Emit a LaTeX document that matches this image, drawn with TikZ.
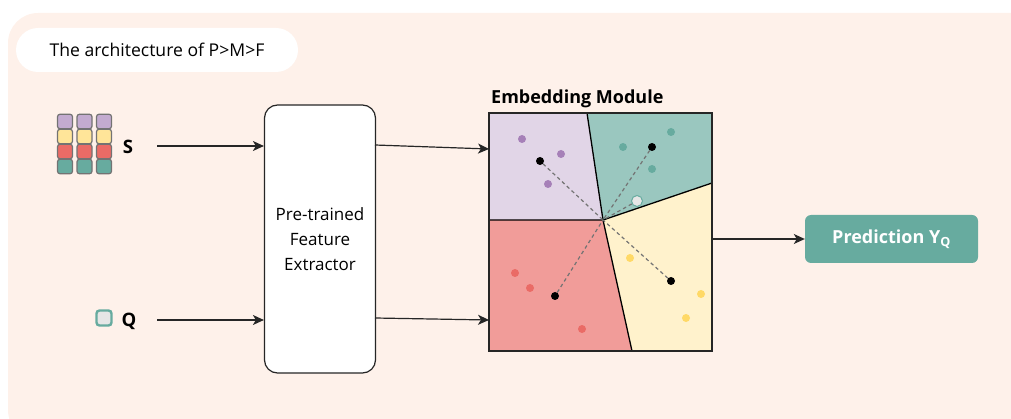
\documentclass[tikz,border=0pt]{standalone}
\usepackage{fontspec}
\setmainfont{Open Sans}
\usetikzlibrary{arrows.meta}
\definecolor{bgpeach}{HTML}{FEF1EA}
\definecolor{cellpurple}{HTML}{C3ABD0}
\definecolor{cellyellow}{HTML}{FFE599}
\definecolor{cellred}{HTML}{EA6B66}
\definecolor{cellteal}{HTML}{67AB9F}
\definecolor{regpurple}{HTML}{E1D5E7}
\definecolor{regteal}{HTML}{9AC7BF}
\definecolor{regyellow}{HTML}{FFF2CC}
\definecolor{regred}{HTML}{F19C99}
\definecolor{dotpurple}{HTML}{A680B8}
\definecolor{dotteal}{HTML}{67AB9F}
\definecolor{dotyellow}{HTML}{FFD966}
\definecolor{dotred}{HTML}{EA6B66}
\definecolor{qgray}{HTML}{E6E6E6}
\tikzset{
  x=1pt, y=-1pt,
  flow/.style={line width=1.2pt, draw=black!85, -{Stealth[length=11pt,width=10pt,inset=3pt]}},
  cell/.style={draw=black!55, line width=1.2pt, rounded corners=2.5pt, minimum width=15pt, minimum height=14.5pt, inner sep=0pt},
  emb/.style={circle, inner sep=0pt, minimum size=8pt},
  proto/.style={circle, fill=black, inner sep=0pt, minimum size=8pt},
  guide/.style={draw=black!55, line width=1.2pt, dash pattern=on 3.5pt off 3pt},
}
\begin{document}
\begin{tikzpicture}
\useasboundingbox (0,0) rectangle (1011,419);
% background panel
\fill[bgpeach, rounded corners=30pt] (8,13) rectangle (1050,440);

% title pill
\node[fill=white, rounded corners=22pt, minimum width=282pt, minimum height=44pt, inner sep=0pt,
      font=\fontsize{17.6}{20}\selectfont] (title) at (157,50) {The architecture of P>M>F};

% support set S
\foreach \c/\xx in {1/65, 2/84.5, 3/104}{
  \foreach \r/\yy/\col in {1/121.5/cellpurple, 2/136.5/cellyellow, 3/151.5/cellred, 4/166.5/cellteal}{
    \node[cell, fill=\col] (s-\r-\c) at (\xx,\yy) {};
  }
}
\node[font=\bfseries\fontsize{18.5}{20}\selectfont] (slab) at (128,147) {S};

% query Q
\node[draw=cellteal, fill=qgray, line width=2.4pt, rounded corners=3pt, minimum size=15pt, inner sep=0pt] (qcell) at (104,318) {};
\node[font=\bfseries\fontsize{18.5}{20}\selectfont] (qlab) at (129,321) {Q};

% feature extractor
\node[draw=black!85, fill=white, line width=1.2pt, rounded corners=13pt, minimum width=111pt, minimum height=268pt,
      align=center, font=\fontsize{17}{25}\selectfont] (fe) at (320,239) {Pre-trained\\Feature\\Extractor};

\coordinate (sfrom) at (157,146);
\coordinate (qfrom) at (157,320);
\draw[flow] (sfrom) -- (sfrom -| fe.west);
\draw[flow] (qfrom) -- (qfrom -| fe.west);

% embedding module: Voronoi cells around the prototypes
\coordinate (c) at (603,220);
\fill[regpurple] (489,113) -- (587,113) -- (c) -- (489,220) -- cycle;
\fill[regteal] (587,113) -- (712,113) -- (712,183) -- (c) -- cycle;
\fill[regyellow] (c) -- (712,183) -- (712,351) -- (632,351) -- cycle;
\fill[regred] (489,220) -- (c) -- (632,351) -- (489,351) -- cycle;
\draw[line width=1.3pt] (587,113) -- (c) -- (712,183);
\draw[line width=1.3pt] (489,220) -- (c) -- (632,351);

% class embeddings
\foreach \p/\col in {{522,139}/dotpurple, {561,154}/dotpurple, {548,184}/dotpurple,
                     {623,147}/dotteal, {671,132}/dotteal, {652,169}/dotteal,
                     {630,258}/dotyellow, {701,294}/dotyellow, {686,318}/dotyellow,
                     {515,273}/dotred, {530,288}/dotred, {582,329}/dotred}{
  \node[emb, fill=\col] at (\p) {};
}

% prototypes and query embedding
\node[proto] (pp) at (540,161) {};
\node[proto] (pt) at (652,147) {};
\node[proto] (py) at (671,281) {};
\node[proto] (pr) at (555,296) {};
\node[circle, draw=dotteal, fill=qgray, line width=1pt, minimum size=11pt, inner sep=0pt] (qe) at (637,201) {};
\foreach \n in {pp,pt,py,pr,qe}{
  \draw[guide] (\n) -- (c);
}

\node[draw=black!85, line width=2pt, minimum width=223pt, minimum height=238pt, inner sep=0pt] (embbox) at (600.5,232) {};
\node[anchor=base west, font=\bfseries\fontsize{18}{20}\selectfont, inner sep=0pt] (embtitle) at (491,104) {Embedding Module};

\coordinate (fs) at (375,145);
\coordinate (ft) at (489,149);
\coordinate (fq) at (375,318);
\coordinate (fu) at (489,320);
\draw[flow] (fs) -- (ft);
\draw[flow] (fq) -- (fu);

% prediction
\node[fill=cellteal, rounded corners=6pt, minimum width=173pt, minimum height=48pt, inner sep=0pt,
      text=white, font=\bfseries\fontsize{18}{20}\selectfont] (pred) at (891.5,239) {Prediction Y\textsubscript{Q}};
\draw[flow] (embbox.east |- pred.west) -- (pred.west);
\end{tikzpicture}
\end{document}
